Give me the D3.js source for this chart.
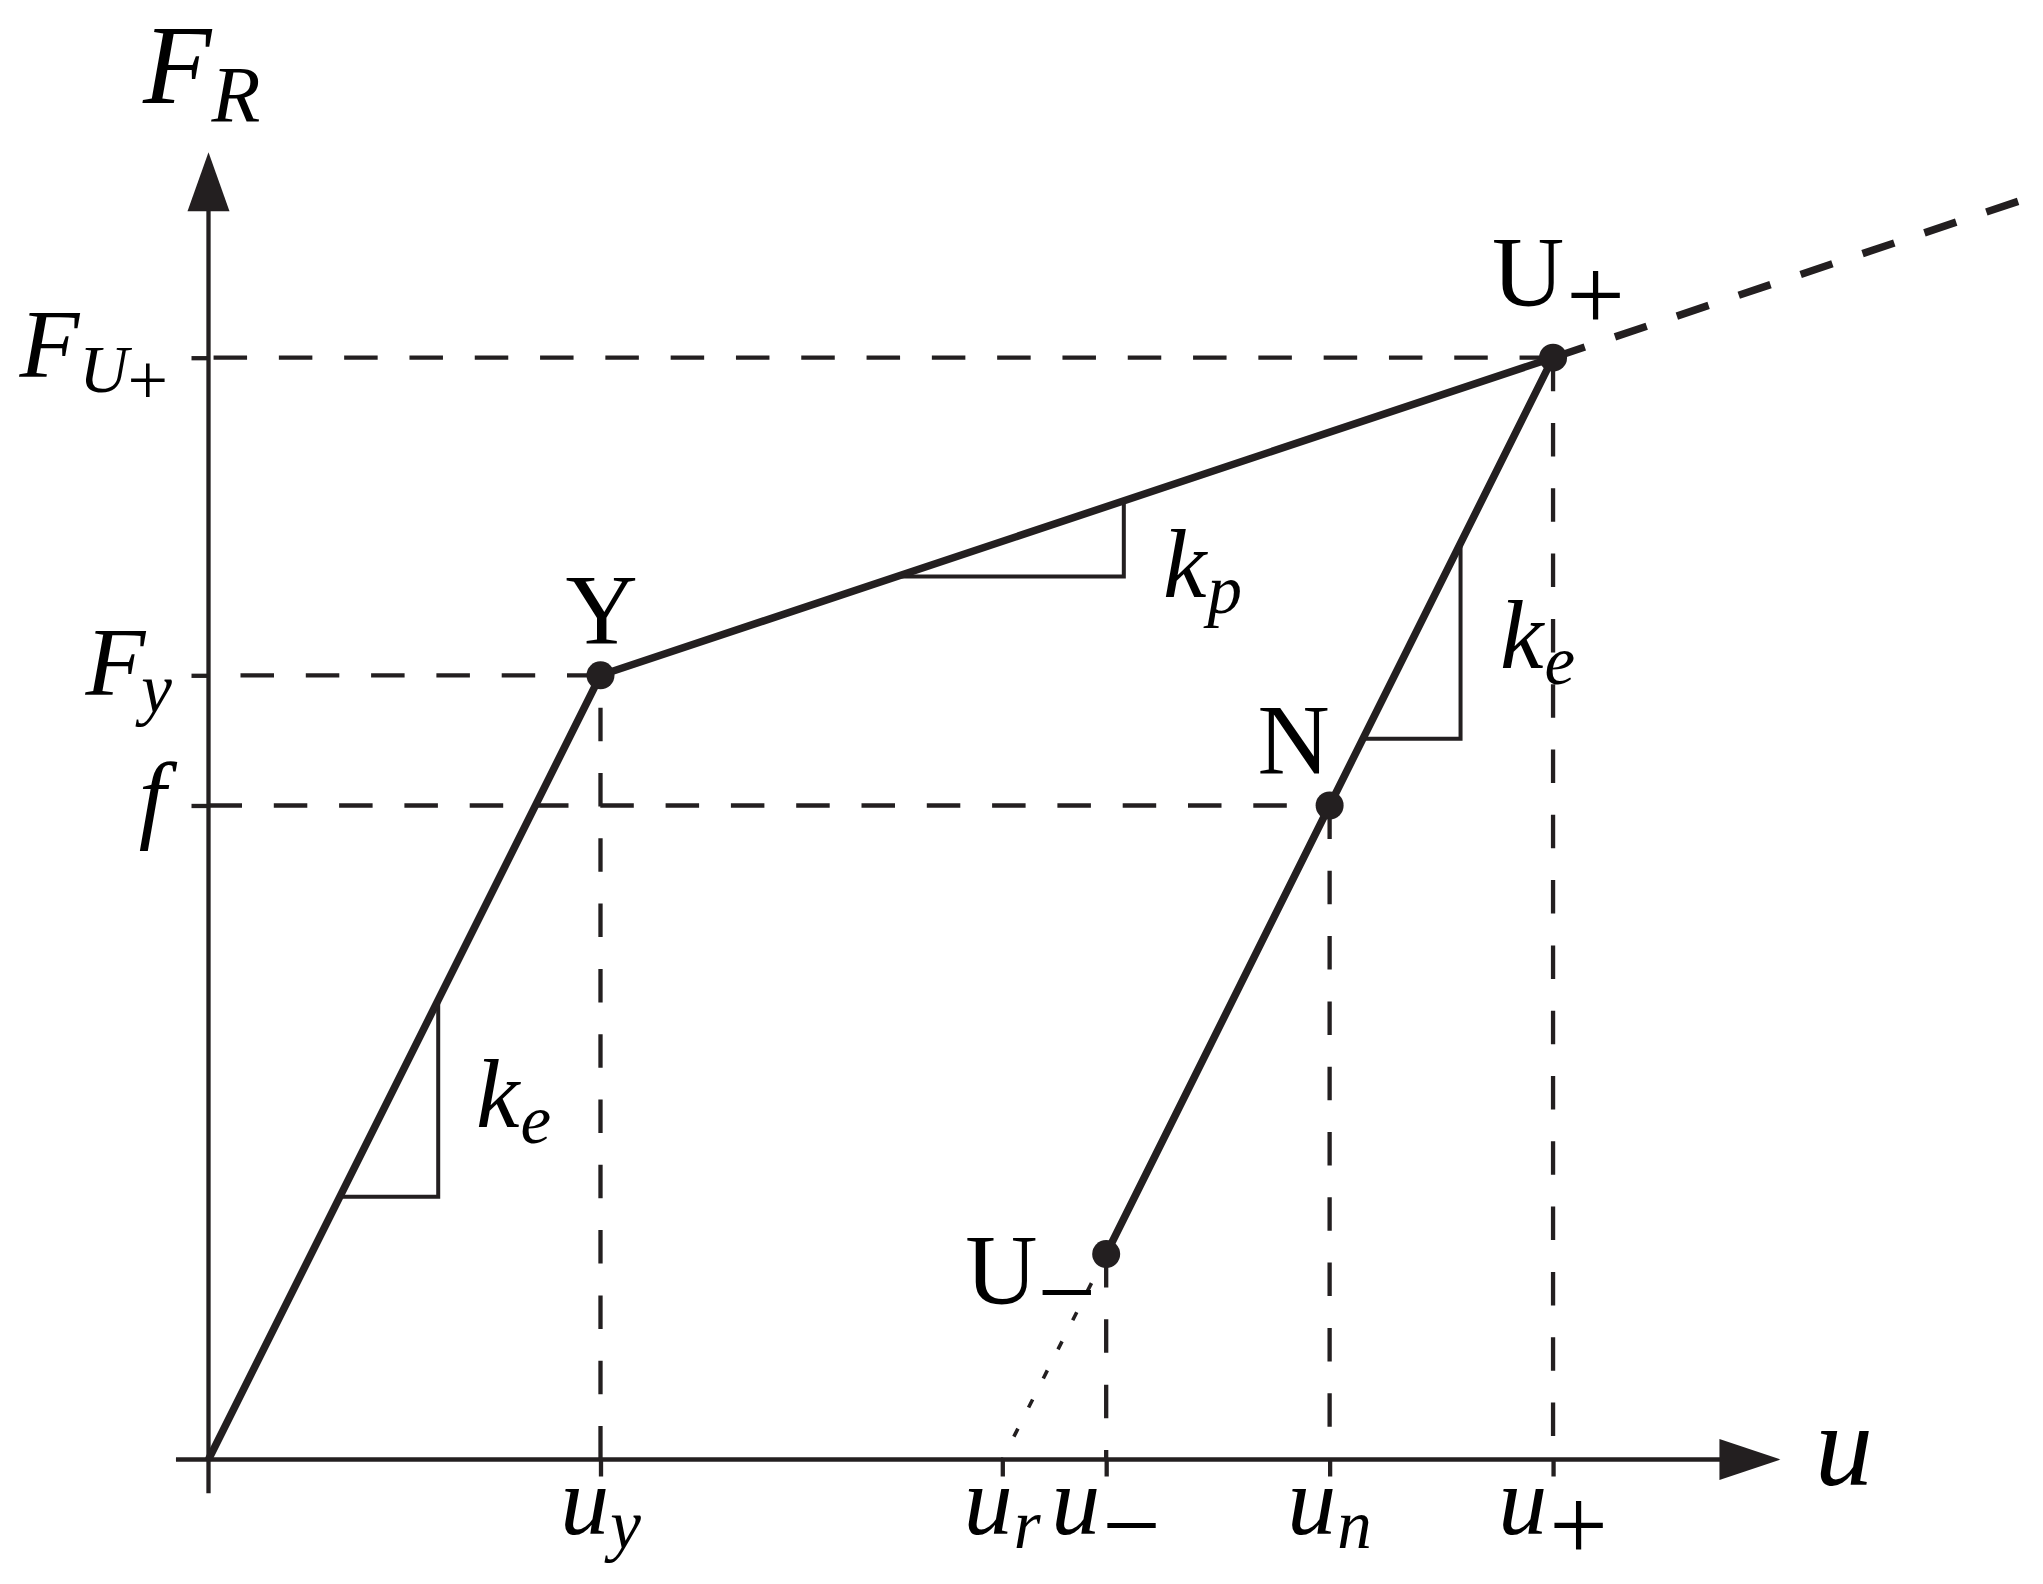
<!DOCTYPE html>
<html><head><meta charset="utf-8">
<script src="https://cdn.jsdelivr.net/npm/d3@7"></script>
<style>html,body{margin:0;padding:0;background:#fff;} svg{display:block;}</style>
</head><body><svg id="chart" width="2043" height="1584"></svg>
<script>
// ---------------- data (u = displacement, F = restoring force) ----------------
const uAxisExtent = [-0.083, 4.01];
const fAxisExtent = [-0.043, 1.667];
const loadingPath = [[0, 0], [1, 1], [3.43, 1.405]];          // O -> Y -> U+
const unloadingPath = [[3.43, 1.405], [2.86, 0.834], [2.29, 0.262]]; // U+ -> N -> U-
const hardeningExtension = [[3.43, 1.405], [4.62, 1.605]];
const reloadingDotted = [[2.29, 0.262], [2.025, 0]];           // U- -> u_r
const keyPointNames = ["Y", "N", "U+", "U-"];
const keyPointU = [1, 2.86, 3.43, 2.29];
const keyPointF = [1, 0.834, 1.405, 0.262];
const uTickValues = [1, 2.025, 2.29, 2.86, 3.43];
const uTickSubscripts = ["y", "r", "\u2212", "n", "+"];
const fTickValues = [1.405, 1, 0.834];
const fTickNames = ["F_U+", "F_y", "f"];
const guideFrom = [[3.43, 1.405], [1, 1], [0, 0.834], [1, 0], [2.29, 0.262], [2.86, 0.834], [3.43, 1.405]];
const guideTo   = [[0, 1.405],    [0, 1], [2.86, 0.834], [1, 1], [2.29, 0],   [2.86, 0],     [3.43, 0]];
const slopeTriangles = [
  [[0.335, 0.335], [0.586, 0.335], [0.586, 0.586]],
  [[1.755, 1.126], [2.335, 1.126], [2.335, 1.2225]],
  [[2.944, 0.919], [3.194, 0.919], [3.194, 1.168]]
];
const slopeLabels = [["k", "e"], ["k", "p"], ["k", "e"]];

// ---------------- drawing ----------------
const INK = "#231f20";
const svg = d3.select("#chart");
const x = d3.scaleLinear().domain([0, 1]).range([208.5, 600.5]);
const y = d3.scaleLinear().domain([0, 1]).range([1459.5, 675.3]);
const line = d3.line().x(d => x(d[0])).y(d => y(d[1]));
const FONT = "'Liberation Serif', 'Times New Roman', serif";

// dashed guide lines
guideFrom.forEach((a, i) => {
  svg.append("path").attr("d", line([a, guideTo[i]]))
    .attr("fill", "none").attr("stroke", INK).attr("stroke-width", 4.3)
    .attr("stroke-dasharray", "33.5 31.8");
});

// axes with ticks
const xAxis = d3.axisBottom(x).tickValues(uTickValues).tickSize(17).tickFormat("");
const gx = svg.append("g").attr("transform", `translate(0,${y(0)})`).call(xAxis);
const yAxis = d3.axisLeft(y).tickValues(fTickValues).tickSize(17).tickFormat("");
const gy = svg.append("g").attr("transform", `translate(${x(0)},0)`).call(yAxis);
[gx, gy].forEach(g => {
  g.select(".domain").remove();
  g.selectAll(".tick line").attr("stroke", INK).attr("stroke-width", 4.3);
  g.selectAll(".tick text").remove();
});
// axis lines + arrowheads
const xTip = x(uAxisExtent[1]), yTip = y(fAxisExtent[1]);
svg.append("line").attr("x1", x(uAxisExtent[0])).attr("x2", xTip - 58).attr("y1", y(0)).attr("y2", y(0))
  .attr("stroke", INK).attr("stroke-width", 4.3);
svg.append("line").attr("x1", x(0)).attr("x2", x(0)).attr("y1", y(fAxisExtent[0])).attr("y2", yTip + 57)
  .attr("stroke", INK).attr("stroke-width", 4.3);
svg.append("path").attr("d", `M${xTip},${y(0)}L${xTip - 61},${y(0) - 20.5}L${xTip - 61},${y(0) + 20.5}Z`).attr("fill", INK);
svg.append("path").attr("d", `M${x(0)},${yTip}L${x(0) - 21},${yTip + 59}L${x(0) + 21},${yTip + 59}Z`).attr("fill", INK);

// slope triangles
slopeTriangles.forEach(t => {
  svg.append("path").attr("d", line(t)).attr("fill", "none").attr("stroke", INK)
    .attr("stroke-width", 4).attr("stroke-linejoin", "miter");
});

// main force-displacement path
[loadingPath, unloadingPath].forEach(p => {
  svg.append("path").attr("d", line(p)).attr("fill", "none").attr("stroke", INK)
    .attr("stroke-width", 7.5).attr("stroke-linejoin", "round");
});
svg.append("path").attr("d", line(hardeningExtension)).attr("fill", "none").attr("stroke", INK)
  .attr("stroke-width", 7.5).attr("stroke-dasharray", "33.5 31.8");
svg.append("path").attr("d", line(reloadingDotted)).attr("fill", "none").attr("stroke", INK)
  .attr("stroke-width", 3.6).attr("stroke-dasharray", "9 23.6");

// key points
keyPointNames.forEach((n, i) => {
  svg.append("circle").attr("cx", x(keyPointU[i])).attr("cy", y(keyPointF[i])).attr("r", 14).attr("fill", INK);
});

// ---------------- text ----------------
function mathLabel(px, py, anchor, parts) {
  const t = svg.append("text").attr("x", px).attr("y", py).attr("text-anchor", anchor)
    .attr("font-family", FONT).attr("fill", "#000");
  parts.forEach(p => {
    t.append("tspan").text(p.t).attr("font-size", p.s)
      .attr("font-style", p.i ? "italic" : "normal")
      .attr("dy", p.dy || 0).attr("dx", p.dx || 0);
  });
  return t;
}
const isSign = s => s === "+" || s === "\u2212";

// bottom tick labels
uTickValues.forEach((v, i) => {
  const sub = uTickSubscripts[i];
  mathLabel(x(v), y(0) + 74.5, "middle", [
    { t: "u", s: 98, i: true },
    isSign(sub) ? { t: sub, s: 104, dy: 26, dx: 2 } : { t: sub, s: 69, i: true, dy: 14, dx: 1 }
  ]);
});
// left tick labels
mathLabel(168, y(fTickValues[0]) + 19.3, "end", [
  { t: "F", s: 98, i: true }, { t: "U", s: 68, i: true, dy: 14.7 }, { t: "+", s: 72, dy: 12.7, dx: -1 }]);
mathLabel(172, y(fTickValues[1]) + 20, "end", [
  { t: "F", s: 98, i: true }, { t: "y", s: 69, i: true, dy: 16.7, dx: -4 }]);
mathLabel(166, y(fTickValues[2]) + 24.5, "end", [{ t: "f", s: 98, i: true }]);

// axis titles
mathLabel(143, 103, "start", [{ t: "F", s: 112, i: true }, { t: "R", s: 80, i: true, dy: 19 }]);
mathLabel(1815, 1485, "start", [{ t: "u", s: 116, i: true }]);

// key point labels
mathLabel(x(keyPointU[0]) + 1, y(keyPointF[0]) - 32.6, "middle", [{ t: "Y", s: 100 }]);
mathLabel(x(keyPointU[1]) - 36, y(keyPointF[1]) - 32.7, "middle", [{ t: "N", s: 100 }]);
mathLabel(x(keyPointU[2]) - 61, y(keyPointF[2]) - 53, "start", [{ t: "U", s: 100 }, { t: "+", s: 104, dy: 25.5, dx: 2 }]);
mathLabel(x(keyPointU[3]) - 141, y(keyPointF[3]) + 49.3, "start", [{ t: "U", s: 100 }, { t: "\u2212", s: 104, dy: 24, dx: 0 }]);

// slope labels
const slopeLabelPos = [[476, 1126.7], [1163, 597], [1500, 668.3]];
slopeLabels.forEach((l, i) => {
  mathLabel(slopeLabelPos[i][0], slopeLabelPos[i][1], "start", [
    { t: l[0], s: 98, i: true }, { t: l[1], s: 69, i: true, dy: 16, dx: 1 }]);
});
</script></body></html>
